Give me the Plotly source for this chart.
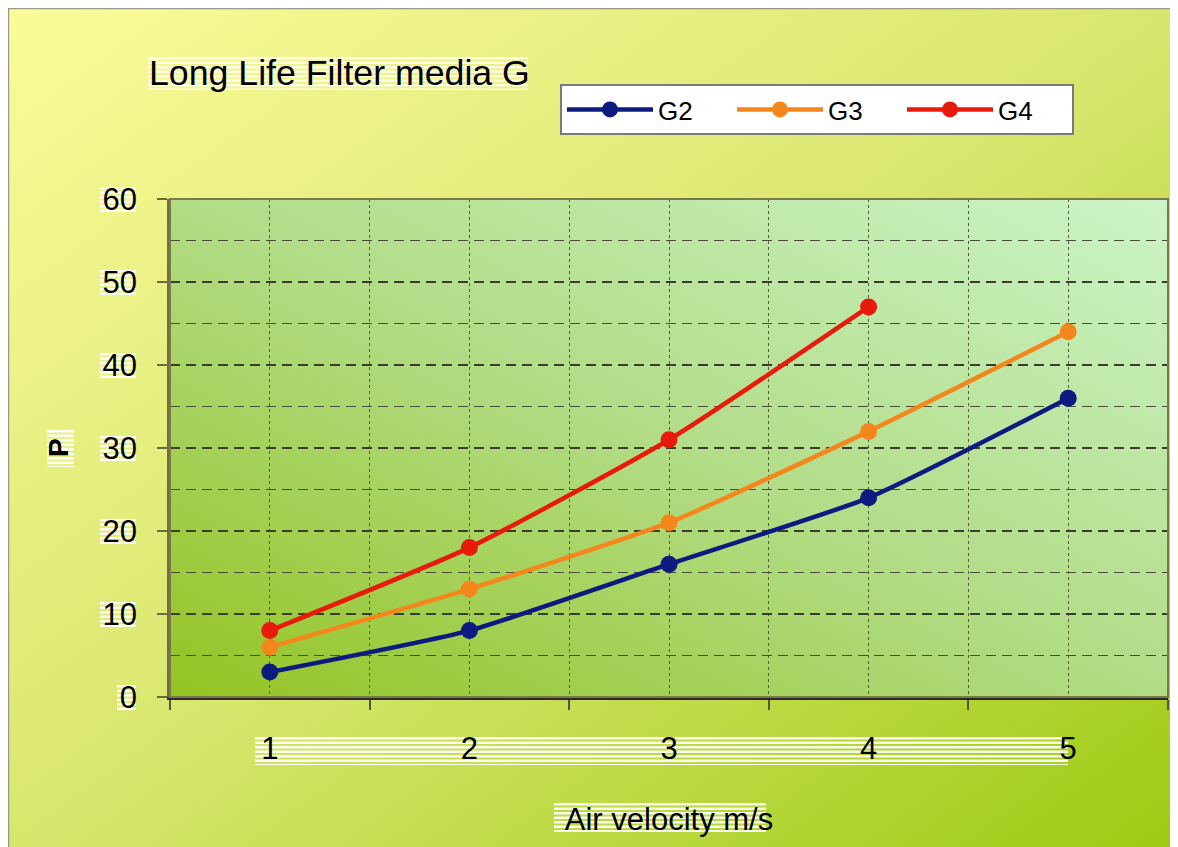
import base64
import plotly.graph_objects as go

# ---- data ----
velocity = [1, 2, 3, 4, 5]
tick_labels = ["1", "2", "3", "4", "5"]
g2 = [3, 8, 16, 24, 36]
g3 = [6, 13, 21, 32, 44]
g4 = [8, 18, 31, 47]
series_names = ["G2", "G3", "G4"]
y_ticks = [0, 10, 20, 30, 40, 50, 60]

W, H = 1178, 847
OFF = 8  # page body margin in the screenshot
L, T, PW, PH = 170 - OFF, 199 - OFF, 998, 498
FONT = "Liberation Sans, Arial, sans-serif"


def px(x):
    # x given in screen pixels
    return (x - OFF - L) / PW


def py(y):
    return (T + PH - (y - OFF)) / PH


def svg_uri(svg):
    return "data:image/svg+xml;base64," + base64.b64encode(svg.encode()).decode()


paper_svg = (
    '<svg xmlns="http://www.w3.org/2000/svg" width="1178" height="847">'
    '<defs><linearGradient id="g" x1="0" y1="0" x2="1" y2="1">'
    '<stop offset="0" stop-color="#fbfb9a"/>'
    '<stop offset="0.5" stop-color="#d8e66e"/>'
    '<stop offset="1" stop-color="#9cca12"/>'
    '</linearGradient></defs><rect width="1178" height="847" fill="url(#g)"/></svg>'
)
plot_svg = (
    '<svg xmlns="http://www.w3.org/2000/svg" width="998" height="498">'
    '<defs><linearGradient id="p" x1="0" y1="1" x2="1" y2="0">'
    '<stop offset="0" stop-color="#94c422"/>'
    '<stop offset="0.5" stop-color="#b2dc86"/>'
    '<stop offset="1" stop-color="#ccf4c8"/>'
    '</linearGradient></defs><rect width="998" height="498" fill="url(#p)"/></svg>'
)

fig = go.Figure()
colors = ["#0d1a80", "#f5861c", "#e81a0c"]
for name, ys, c in zip(series_names, [g2, g3, g4], colors):
    fig.add_trace(go.Scatter(
        x=velocity[:len(ys)], y=ys, name=name, mode="lines+markers",
        line=dict(color=c, width=4.5, shape="spline", smoothing=0.5),
        marker=dict(color=c, size=17),
    ))

shapes = []


def stripes(x0, x1, y0, y1, color="rgba(255,255,255,0.9)", step=4.5, h=2.6):
    y = y0
    while y < y1:
        shapes.append(dict(type="rect", xref="paper", yref="paper",
                           x0=px(x0), x1=px(x1), y0=py(y), y1=py(min(y + h, y1)),
                           fillcolor=color, line=dict(width=0), layer="below"))
        y += step


# label backing stripes (artifact of the original rendering)
stripes(148, 528, 57, 90, color="rgba(255,255,255,0.75)")
stripes(255, 1068, 737, 765)
stripes(554, 766, 803, 832)
stripes(47, 74, 430, 467)
for v in y_ticks:
    yc = 199 + PH - v * PH / 60
    wlab = 17 * len(str(v)) + 2
    stripes(136 - wlab, 136, yc - 12, yc + 14)

# outer frame and plot border
shapes.append(dict(type="rect", xref="paper", yref="paper",
                   x0=px(8.5), x1=px(1200), y0=py(870), y1=py(8.5),
                   line=dict(color="#9a9a8a", width=1.5), layer="above"))
shapes.append(dict(type="rect", xref="paper", yref="paper",
                   x0=0, x1=1, y0=0, y1=1,
                   line=dict(color="#7a7a48", width=2), layer="above"))

fig.update_layout(
    width=W, height=H,
    margin=dict(l=L, r=W - L - PW, t=T, b=H - T - PH),
    paper_bgcolor="rgba(0,0,0,0)", plot_bgcolor="rgba(0,0,0,0)",
    font=dict(family=FONT, color="black"),
    showlegend=True,
    legend=dict(orientation="h", x=px(560), y=py(84), xanchor="left", yanchor="top",
                bgcolor="white", bordercolor="#7a7a7a", borderwidth=2,
                font=dict(size=26, family=FONT), itemwidth=86,
                entrywidth=69, entrywidthmode="pixels"),
    images=[
        dict(source=svg_uri(paper_svg), xref="paper", yref="paper",
             x=px(OFF), y=py(OFF), sizex=W / PW, sizey=H / PH,
             sizing="stretch", xanchor="left", yanchor="top", layer="below"),
        dict(source=svg_uri(plot_svg), xref="paper", yref="paper",
             x=0, y=1, sizex=1, sizey=1,
             sizing="stretch", xanchor="left", yanchor="top", layer="below"),
    ],
    shapes=shapes,
    annotations=[
        dict(text="Long Life Filter media G", xref="paper", yref="paper",
             x=px(147), y=py(73), xanchor="left", yanchor="middle",
             showarrow=False, font=dict(size=35.7, family=FONT)),
        dict(text="<b>P</b>", xref="paper", yref="paper",
             x=px(58), y=py(448), xanchor="center", yanchor="middle",
             textangle=-90, showarrow=False, font=dict(size=28, family=FONT)),
    ],
)

fig.update_xaxes(
    range=[0.5, 5.5], tickmode="array", tickvals=velocity, ticktext=tick_labels,
    ticks="", tickfont=dict(size=31, family=FONT), ticklabelstandoff=22,
    showgrid=True, gridcolor="#5a5a40", griddash="dot", gridwidth=1,
    minor=dict(tickmode="array", tickvals=[0.5, 1.5, 2.5, 3.5, 4.5, 5.5],
               ticks="outside", ticklen=10, tickcolor="#55553a", tickwidth=1.5,
               showgrid=True, gridcolor="#5a5a40", griddash="dot", gridwidth=1),
    showline=True, linecolor="#2a2a2a", linewidth=2.5, zeroline=False,
    title=dict(text="Air velocity m/s", font=dict(size=31, family=FONT), standoff=44),
)
fig.update_yaxes(
    range=[0, 60], tickmode="array", tickvals=y_ticks,
    ticks="outside", ticklen=10, tickcolor="#6a6a3a", tickwidth=2,
    tickfont=dict(size=31, family=FONT), ticklabelstandoff=14,
    showgrid=True, gridcolor="#3c3c2c", griddash="10px,6px", gridwidth=1.5,
    minor=dict(dtick=5, showgrid=True, gridcolor="#4a4a38", griddash="10px,6px", gridwidth=1.2),
    showline=True, linecolor="#6e6e40", linewidth=2.5, zeroline=False,
)

fig.write_html("out.html")
